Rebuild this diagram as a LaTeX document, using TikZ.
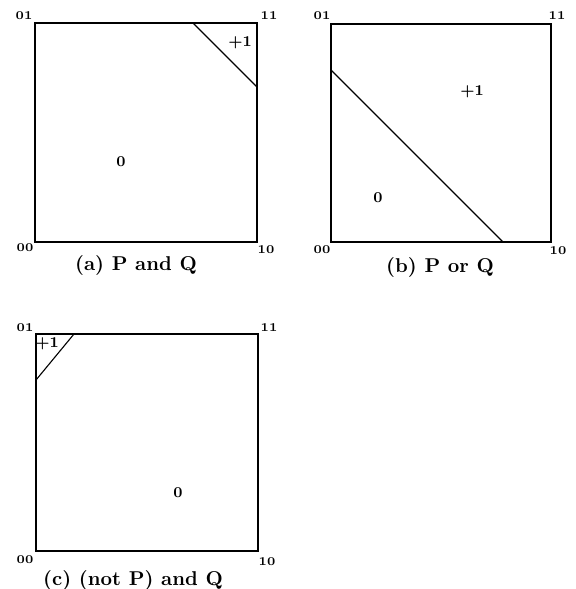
\documentclass[tikz,border=0pt]{standalone}
\usetikzlibrary{positioning}
\begin{document}
\begin{tikzpicture}[x=0.5pt, y=-0.5pt,
  cube/.style={draw, line width=0.8pt},
  bound/.style={draw, line width=0.55pt},
  corner/.style={font=\fontsize{6}{7}\selectfont\bfseries, inner sep=0pt},
  region/.style={font=\fontsize{7.5}{9}\selectfont\bfseries, inner sep=0pt},
  caption/.style={font=\bfseries, inner sep=0pt}]
  \useasboundingbox (0,0) rectangle (575,589);
  % (a) P and Q
  \begin{scope}
    \draw[cube] (35,23) rectangle (257,242);
    \draw[bound] (193,23) -- (257,87);
    \foreach \n/\x/\y in {01/24/16, 11/269/16, 00/25/248, 10/266/250}{
      \node[corner] (a\n) at (\x,\y) {\n};
    }
    \node[region] (aplus) at (240,43) {+1};
    \node[region] (azero) at (121,162) {0};
    \node[caption] (acap) at (136,265) {(a) P and Q};
  \end{scope}
  % (b) P or Q
  \begin{scope}
    \draw[bound] (331,24) rectangle (551,242);
    \draw[bound] (331,70) -- (503,242);
    \foreach \n/\x/\y in {01/322/16, 11/557/16, 00/322/250, 10/558/251}{
      \node[corner] (b\n) at (\x,\y) {\n};
    }
    \node[region] (bplus) at (472,92) {+1};
    \node[region] (bzero) at (378,198) {0};
    \node[caption] (bcap) at (440,267) {(b) P or Q};
  \end{scope}
  % (c) (not P) and Q
  \begin{scope}
    \draw[cube] (36,334) rectangle (258,551);
    \draw[bound] (36,380) -- (74,334);
    \foreach \n/\x/\y in {01/25/328, 11/269/328, 00/25/560, 10/267/562}{
      \node[corner] (c\n) at (\x,\y) {\n};
    }
    \node[region] (cplus) at (47,344) {+1};
    \node[region] (czero) at (178,493) {0};
    \node[caption] (ccap) at (133,580) {(c) (not P) and Q};
  \end{scope}
\end{tikzpicture}
\end{document}
